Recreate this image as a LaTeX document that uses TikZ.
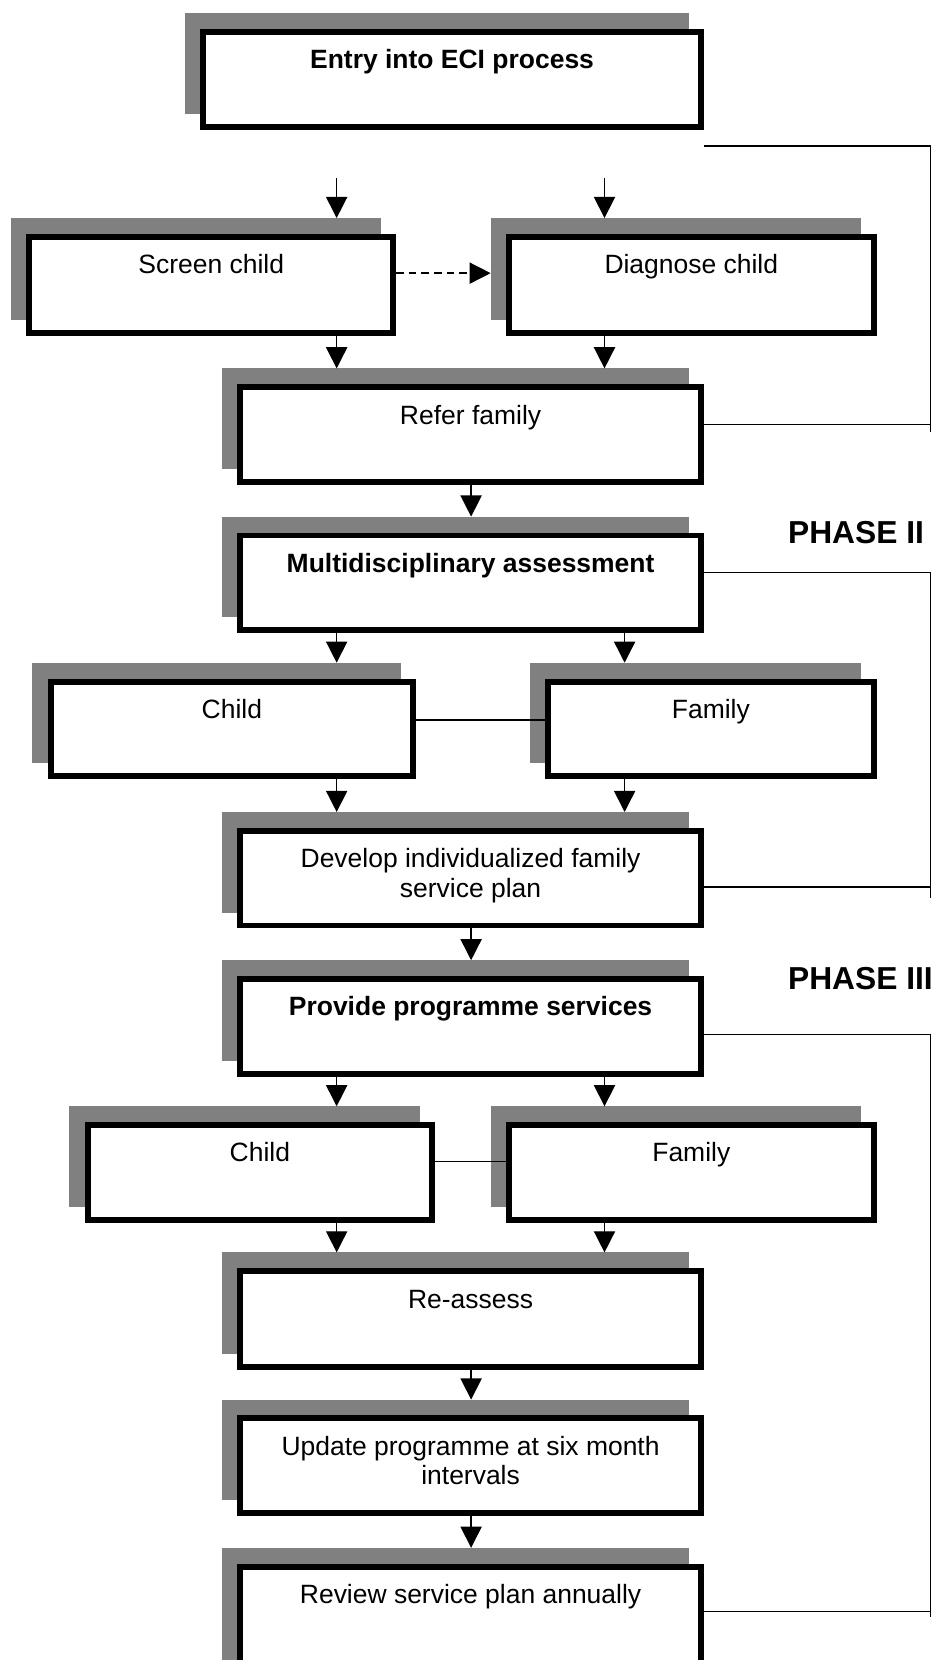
\documentclass[tikz,border=0pt]{standalone}
\usepackage{fontspec}
\setmainfont{Liberation Sans}
\usetikzlibrary{arrows.meta,shadows}
\definecolor{shadowgray}{HTML}{808080}
\tikzset{
  flowbox/.style={rectangle, draw=black, line width=2.8pt, fill=white, inner sep=0pt,
    drop shadow={shadow xshift=-7.25pt, shadow yshift=7.5pt, fill=shadowgray, draw=shadowgray, opacity=1}},
  boxtxt/.style={anchor=base, inner sep=0pt, font=\fontsize{12.5pt}{14pt}\selectfont},
  boldtxt/.style={boxtxt, font=\fontsize{12.5pt}{14pt}\selectfont\bfseries},
  phasetxt/.style={anchor=base west, inner sep=0pt, font=\fontsize{15pt}{18pt}\selectfont\bfseries},
  arr/.style={line width=0.7pt, -{Triangle[width=10pt,length=10pt]}, shorten >=7.5pt},
  darr/.style={line width=0.7pt, dash pattern=on 3.6pt off 2.4pt, -{Triangle[width=10pt,length=10pt]}, shorten >=7.25pt},
  link/.style={line width=0.7pt}
}
\newcommand\mkbox[5]{%
  \node[flowbox, minimum width={0.5pt*(#4-#2)-2.8pt}, minimum height={0.5pt*(#5-#3)-2.8pt}] (#1) at ({(#2+#4)/2},{(#3+#5)/2}) {};}
\newcommand\mktext[3]{%
  \node[#1] (#2-t) at ([yshift=-18.75pt]#2.north) {\parbox[t]{300pt}{\centering #3}};}
\begin{document}
\begin{tikzpicture}[x=0.5pt, y=-0.5pt]
\useasboundingbox (0,0) rectangle (880,1568);
\clip (0,0) rectangle (880,1568);

% boxes
\mkbox{entry}{189}{27}{665}{123}
\mkbox{screen}{25}{221}{374}{317}
\mkbox{diagnose}{478}{221}{828}{317}
\mkbox{refer}{224}{363}{665}{458}
\mkbox{multi}{224}{503}{665}{598}
\mkbox{childA}{45}{641}{393}{736}
\mkbox{familyA}{515}{641}{828}{736}
\mkbox{develop}{224}{782}{665}{877}
\mkbox{provide}{224}{922}{665}{1017}
\mkbox{childB}{80}{1060}{411}{1155}
\mkbox{familyB}{478}{1060}{828}{1155}
\mkbox{reassess}{224}{1198}{665}{1294}
\mkbox{update}{224}{1337}{665}{1432}
\mkbox{review}{224}{1477}{665}{1600}

% texts
\mktext{boldtxt}{entry}{Entry into ECI process}
\mktext{boxtxt}{screen}{Screen child}
\mktext{boxtxt}{diagnose}{Diagnose child}
\mktext{boxtxt}{refer}{Refer family}
\mktext{boldtxt}{multi}{Multidisciplinary assessment}
\mktext{boxtxt}{childA}{Child}
\mktext{boxtxt}{familyA}{Family}
\mktext{boxtxt}{develop}{Develop individualized family\\service plan}
\mktext{boldtxt}{provide}{Provide programme services}
\mktext{boxtxt}{childB}{Child}
\mktext{boxtxt}{familyB}{Family}
\mktext{boxtxt}{reassess}{Re-assess}
\mktext{boxtxt}{update}{Update programme at six month\\intervals}
\mktext{boxtxt}{review}{Review service plan annually}

\node[phasetxt] (phase2) at (744,513) {PHASE II};
\node[phasetxt] (phase3) at (744,935) {PHASE III};

% column coordinates
\coordinate (xL) at (318,0);
\coordinate (xR) at (571,0);
\coordinate (xR2) at (590,0);
\coordinate (xC) at (445,0);
\coordinate (xE) at (879,0);

% arrows
\coordinate (startL) at (318,168);
\coordinate (startR) at (571,168);
\draw[arr] (startL) -- (screen.north -| xL);
\draw[arr] (startR) -- (diagnose.north -| xR);
\coordinate (dashY) at (0,258);
\draw[darr] (screen.east |- dashY) -- (diagnose.west |- dashY);
\draw[arr] (screen.south -| xL) -- (refer.north -| xL);
\draw[arr] (diagnose.south -| xR) -- (refer.north -| xR);
\draw[arr] (refer.south -| xC) -- (multi.north -| xC);
\draw[arr] (multi.south -| xL) -- (childA.north -| xL);
\draw[arr] (multi.south -| xR2) -- (familyA.north -| xR2);
\draw[arr] (childA.south -| xL) -- (develop.north -| xL);
\draw[arr] (familyA.south -| xR2) -- (develop.north -| xR2);
\draw[arr] (develop.south -| xC) -- (provide.north -| xC);
\draw[arr] (provide.south -| xL) -- (childB.north -| xL);
\draw[arr] (provide.south -| xR) -- (familyB.north -| xR);
\draw[arr] (childB.south -| xL) -- (reassess.north -| xL);
\draw[arr] (familyB.south -| xR) -- (reassess.north -| xR);
\draw[arr] (reassess.south -| xC) -- (update.north -| xC);
\draw[arr] (update.south -| xC) -- (review.north -| xC);

% child-family links
\coordinate (linkA) at (0,680);
\coordinate (linkB) at (0,1097);
\draw[link] (childA.east |- linkA) -- (familyA.west |- linkA);
\draw[link] (childB.east |- linkB) -- (familyB.west |- linkB);

% phase brackets
\coordinate (b1s) at (665,138);
\coordinate (b1e) at (879,408);
\coordinate (b1y) at (0,401);
\draw[link] (b1s) -- (b1s -| xE) -- (b1e);
\draw[link] (refer.east |- b1y) -- (xE |- b1y);

\coordinate (b2y) at (0,541);
\coordinate (b2e) at (879,848);
\coordinate (b2z) at (0,838);
\draw[link] (multi.east |- b2y) -- (xE |- b2y) -- (b2e);
\draw[link] (develop.east |- b2z) -- (xE |- b2z);

\coordinate (b3y) at (0,977);
\coordinate (b3e) at (879,1527);
\coordinate (b3z) at (0,1522);
\draw[link] (provide.east |- b3y) -- (xE |- b3y) -- (b3e);
\draw[link] (review.east |- b3z) -- (xE |- b3z);
\end{tikzpicture}
\end{document}
